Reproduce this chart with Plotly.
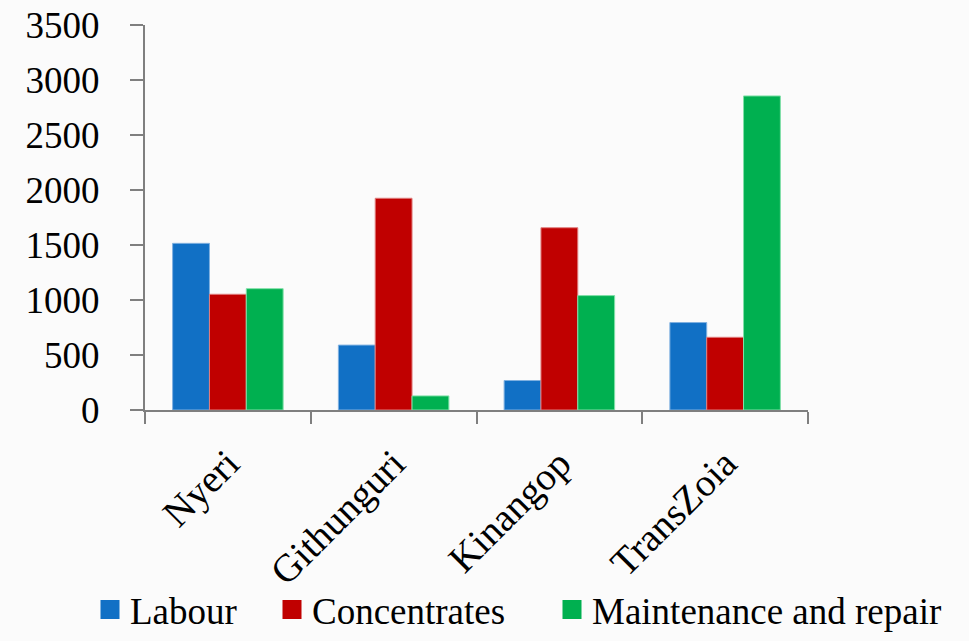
import plotly.graph_objects as go

regions = ["Nyeri", "Githunguri", "Kinangop", "TransZoia"]
labour = [1515, 590, 268, 795]
concentrates = [1052, 1925, 1657, 661]
maintenance = [1103, 128, 1040, 2855]
y_ticks = [0, 500, 1000, 1500, 2000, 2500, 3000, 3500]

series = [
    ("Labour", labour, "#1170C5", "#7fb0e0"),
    ("Concentrates", concentrates, "#C00000", "#e07f7f"),
    ("Maintenance and repair", maintenance, "#00B050", "#80e0a8"),
]
legend_ids = ["legend", "legend2", "legend3"]
legend_x = [90, 272, 552]   # left edge of each legend box, px

serif = "Liberation Serif"
axis_col = "#7f7f7f"
W, H = 969, 641

fig = go.Figure()
for (name, vals, color, edge), lg in zip(series, legend_ids):
    fig.add_trace(go.Bar(
        name=name, x=regions, y=vals, legendgroup=name, showlegend=False,
        marker=dict(color=color, line=dict(color=edge, width=1)),
    ))
    # legend swatch: a larger square than the default bar symbol
    fig.add_trace(go.Scatter(
        name=name, x=[None], y=[None], mode="markers", legendgroup=name,
        legend=lg, showlegend=True, hoverinfo="skip",
        marker=dict(symbol="square", size=16, color=color,
                    line=dict(color=color, width=3)),
    ))

legend_common = dict(
    orientation="h", xref="container", yref="container",
    xanchor="left", yanchor="bottom", y=-5 / H,
    font=dict(family=serif, size=37), bgcolor="rgba(0,0,0,0)",
    itemsizing="trace",
)

fig.update_layout(
    width=W, height=H,
    margin=dict(l=145, r=161, t=25, b=231, autoexpand=False),
    paper_bgcolor="#fbfbfb", plot_bgcolor="#fbfbfb",
    barmode="group", bargap=1/3, bargroupgap=0,
    font=dict(family=serif, color="black"),
    showlegend=True,
    legend=dict(legend_common, x=legend_x[0] / W),
    legend2=dict(legend_common, x=legend_x[1] / W),
    legend3=dict(legend_common, x=legend_x[2] / W),
    xaxis=dict(
        showline=True, linecolor=axis_col, linewidth=2,
        ticks="outside", tickson="boundaries", ticklen=12,
        tickcolor=axis_col, tickwidth=2,
        tickangle=-45, tickfont=dict(family=serif, size=39),
        ticklabelstandoff=13,
        showgrid=False, zeroline=False,
    ),
    yaxis=dict(
        range=[0, 3500], tickvals=y_ticks,
        showline=True, linecolor=axis_col, linewidth=2,
        ticks="outside", ticklen=13, tickcolor=axis_col, tickwidth=2,
        tickfont=dict(family=serif, size=37),
        ticklabelstandoff=23,
        showgrid=False, zeroline=False,
    ),
)

fig.write_html("out.html")
